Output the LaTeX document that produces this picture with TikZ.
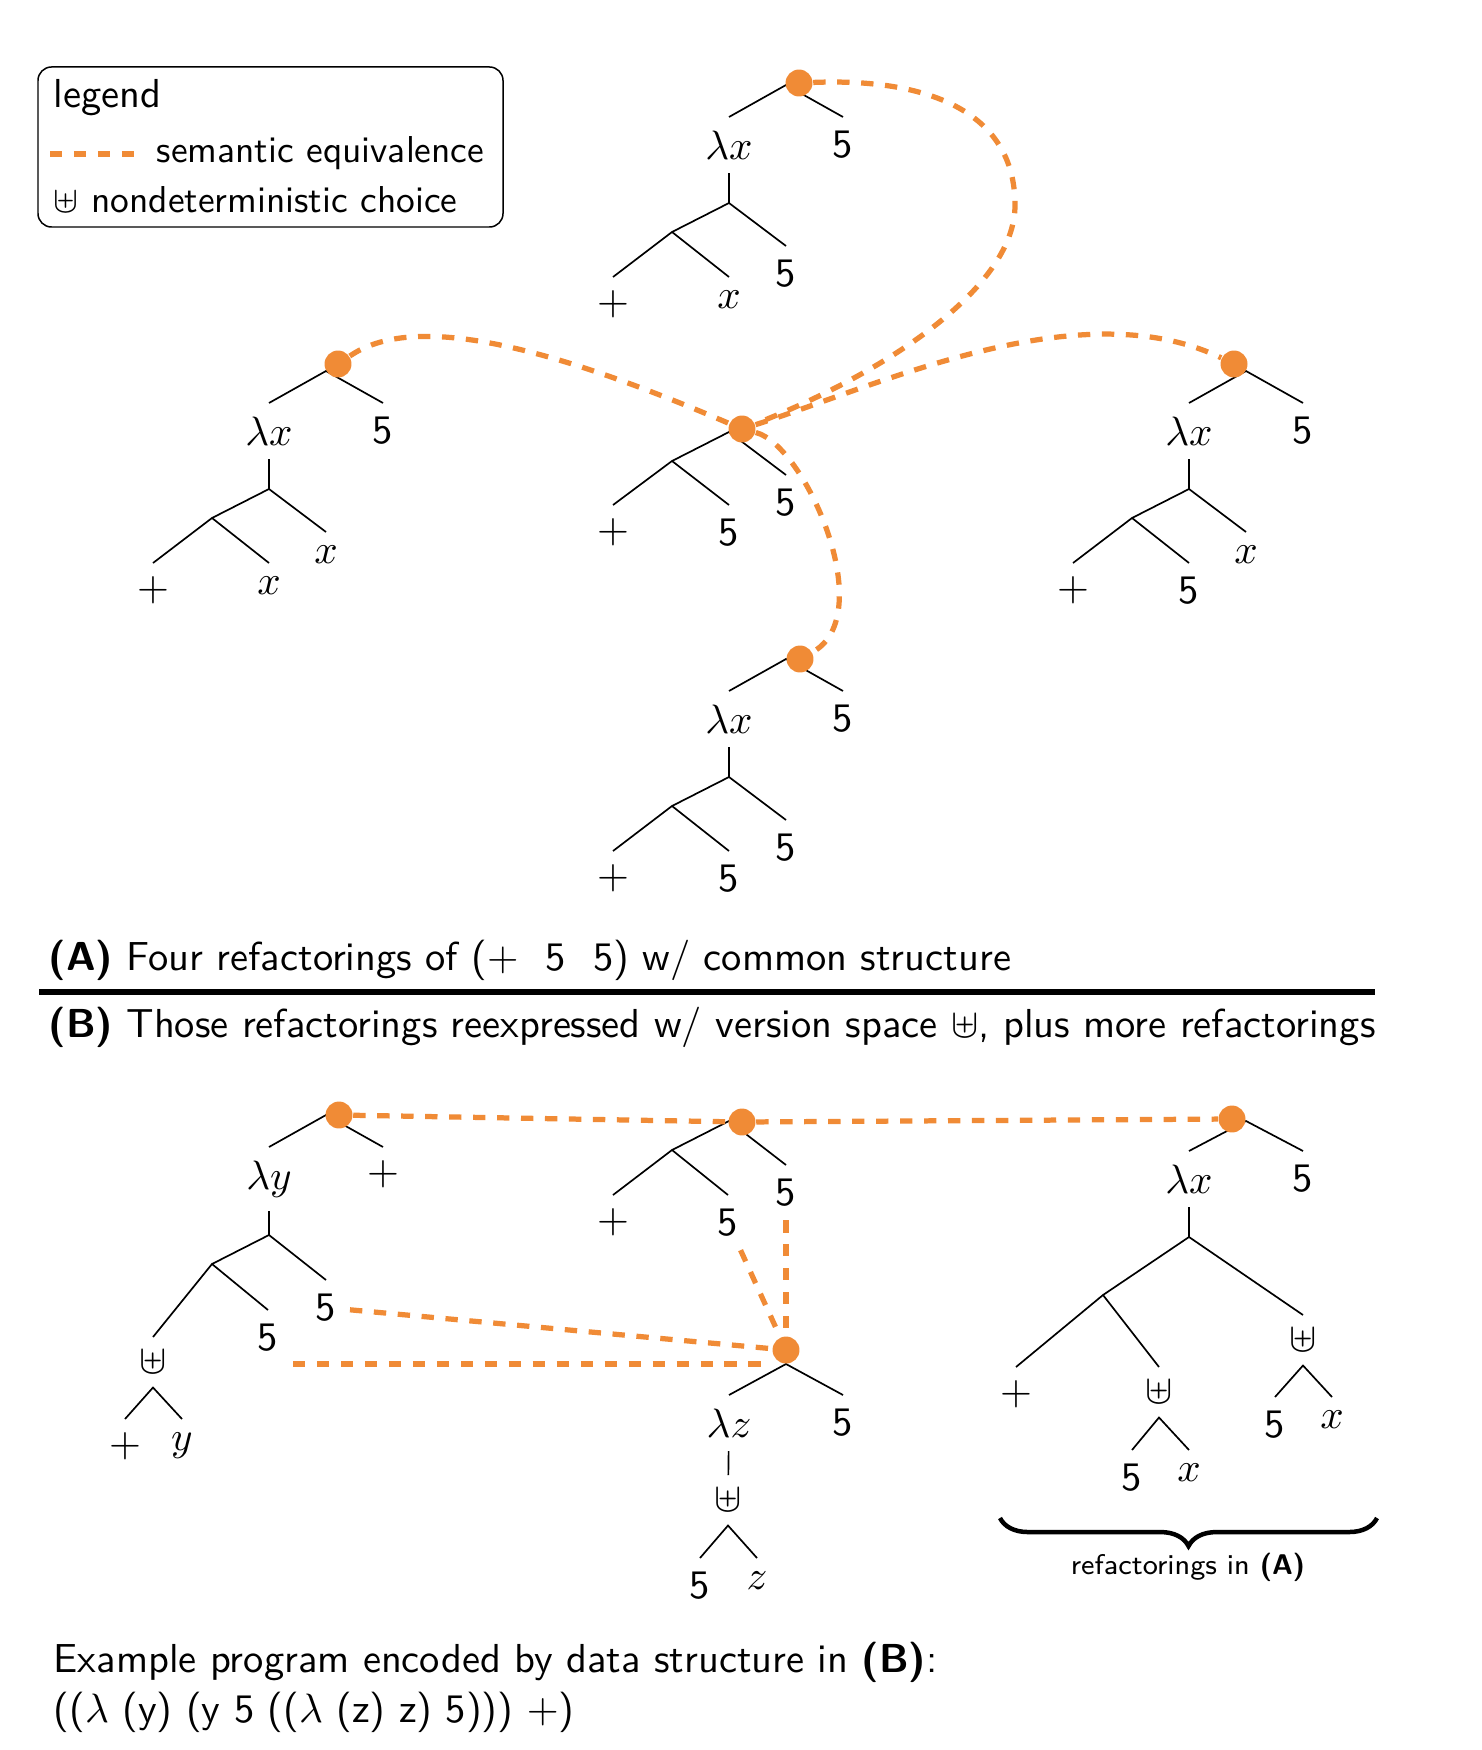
\documentclass[tikz,border=0pt]{standalone}
\usetikzlibrary{fit,decorations.pathreplacing}
\renewcommand{\familydefault}{\sfdefault}
\definecolor{eqorange}{RGB}{240,139,54}

\begin{document}
\begin{tikzpicture}[
  x=0.267pt,
  y=-0.267pt,
  lf/.style={anchor=north, inner sep=3.5pt, font=\fontsize{10.8}{13}\selectfont},
  tr/.style={draw=black, line width=0.45pt},
  eqv/.style={draw=eqorange, line width=1.4pt, dash pattern=on 3.3pt off 3.1pt},
  eqdot/.style={circle, fill=eqorange, inner sep=0pt, minimum size=7.2pt},
  txt/.style={anchor=base west, inner sep=0pt},
  bigtxt/.style={txt, font=\fontsize{10.8}{13}\selectfont}
]
\useasboundingbox (0,0) rectangle (1482,1750);

% legend
\node[draw, rounded corners=3.6pt, inner sep=0pt, fit={(38,67) (503,227)}] (legend) {};
\node[bigtxt] (legtitle) at (53,108) {legend};
\coordinate (legdashA) at (50,154);
\coordinate (legdashB) at (135,154);
\draw[eqv] (legdashA) -- (legdashB);
\node[txt] (legeqv) at (156,163) {semantic equivalence};
\node[txt] (legchoice) at (53,212) {$\uplus$ nondeterministic choice};

% (A) top tree
\coordinate (topR) at (786,85);
\node[lf] (toplam) at (729,117) {$\lambda x$};
\node[lf] (topfive) at (843,117) {5};
\coordinate (topapp) at (729,203);
\coordinate (topin) at (672,232);
\node[lf] (topr) at (786,246) {5};
\node[lf] (topplus) at (613,277) {$+$};
\node[lf] (topm) at (729,277) {$x$};
\draw[tr] (toplam.north) -- (topR) -- (topfive.north);
\draw[tr] (toplam) -- (topapp) -- (topr.north);
\draw[tr] (topplus.north) -- (topin) -- (topm.north);
\draw[tr] (topin) -- (topapp);

% (A) left tree
\coordinate (lftR) at (326,371);
\node[lf] (lftlam) at (269,403) {$\lambda x$};
\node[lf] (lftfive) at (383,403) {5};
\coordinate (lftapp) at (269,489);
\coordinate (lftin) at (212,518);
\node[lf] (lftr) at (326,532) {$x$};
\node[lf] (lftplus) at (153,563) {$+$};
\node[lf] (lftm) at (269,563) {$x$};
\draw[tr] (lftlam.north) -- (lftR) -- (lftfive.north);
\draw[tr] (lftlam) -- (lftapp) -- (lftr.north);
\draw[tr] (lftplus.north) -- (lftin) -- (lftm.north);
\draw[tr] (lftin) -- (lftapp);

% (A) middle tree
\coordinate (midapp) at (729,432);
\coordinate (midin) at (672,461);
\node[lf] (midr) at (786,475) {5};
\node[lf] (midplus) at (613,505) {$+$};
\node[lf] (midm) at (729,505) {5};
\draw[tr] (midin) -- (midapp) -- (midr.north);
\draw[tr] (midplus.north) -- (midin) -- (midm.north);

% (A) right tree
\coordinate (rgtR) at (1246,371);
\node[lf] (rgtlam) at (1189,403) {$\lambda x$};
\node[lf] (rgtfive) at (1303,403) {5};
\coordinate (rgtapp) at (1189,489);
\coordinate (rgtin) at (1132,518);
\node[lf] (rgtr) at (1246,532) {$x$};
\node[lf] (rgtplus) at (1073,563) {$+$};
\node[lf] (rgtm) at (1189,563) {5};
\draw[tr] (rgtlam.north) -- (rgtR) -- (rgtfive.north);
\draw[tr] (rgtlam) -- (rgtapp) -- (rgtr.north);
\draw[tr] (rgtplus.north) -- (rgtin) -- (rgtm.north);
\draw[tr] (rgtin) -- (rgtapp);

% (A) bottom tree
\coordinate (botR) at (786,659);
\node[lf] (botlam) at (729,691) {$\lambda x$};
\node[lf] (botfive) at (843,691) {5};
\coordinate (botapp) at (729,777);
\coordinate (botin) at (672,806);
\node[lf] (botr) at (786,820) {5};
\node[lf] (botplus) at (613,851) {$+$};
\node[lf] (botm) at (729,851) {5};
\draw[tr] (botlam.north) -- (botR) -- (botfive.north);
\draw[tr] (botlam) -- (botapp) -- (botr.north);
\draw[tr] (botplus.north) -- (botin) -- (botm.north);
\draw[tr] (botin) -- (botapp);

% captions and rule
\node[bigtxt] (capA) at (48,970) {\textbf{(A)} Four refactorings of (+\ \ 5\ \ 5) w/ common structure};
\coordinate (ruleL) at (39,992);
\coordinate (ruleR) at (1375,992);
\draw[line width=1.6pt] (ruleL) -- (ruleR);
\node[bigtxt] (capB) at (48,1037) {\textbf{(B)} Those refactorings reexpressed w/ version space $\uplus$, plus more refactorings};

% (B) left tree
\coordinate (vslR) at (326,1115);
\node[lf] (vsllam) at (269,1147) {$\lambda y$};
\node[lf] (vslplus) at (383,1147) {$+$};
\coordinate (vslapp) at (269,1235);
\coordinate (vslin) at (212,1264);
\node[lf] (vslr) at (326,1280) {5};
\node[lf] (vslm) at (268,1310) {5};
\node[lf] (vslu) at (153,1337) {$\uplus$};
\node[lf] (vslua) at (125,1419) {$+$};
\node[lf] (vslub) at (182,1419) {$y$};
\coordinate (vslc) at (293,1364);
\draw[tr] (vsllam.north) -- (vslR) -- (vslplus.north);
\draw[tr] (vsllam) -- (vslapp) -- (vslr.north);
\draw[tr] (vslu.north) -- (vslin) -- (vslm.north);
\draw[tr] (vslin) -- (vslapp);
\draw[tr] (vslua.north) -- (vslu.south) -- (vslub.north);

% (B) middle tree
\coordinate (vsmapp) at (729,1121);
\coordinate (vsmin) at (672,1150);
\node[lf] (vsmr) at (786,1165) {5};
\node[lf] (vsmplus) at (613,1195) {$+$};
\node[lf] (vsmm) at (728,1195) {5};
\draw[tr] (vsmin) -- (vsmapp) -- (vsmr.north);
\draw[tr] (vsmplus.north) -- (vsmin) -- (vsmm.north);

% (B) lambda z tree
\coordinate (vszR) at (786,1364);
\node[lf] (vszlam) at (729,1395) {$\lambda z$};
\node[lf] (vszfive) at (843,1395) {5};
\node[lf] (vszu) at (728,1475) {$\uplus$};
\node[lf] (vszua) at (700,1558) {5};
\node[lf] (vszub) at (757,1558) {$z$};
\draw[tr] (vszlam.north) -- (vszR) -- (vszfive.north);
\draw[tr] (vszlam) -- (vszu);
\draw[tr] (vszua.north) -- (vszu.south) -- (vszub.north);

% (B) right tree
\coordinate (vsrR) at (1246,1121);
\node[lf] (vsrlam) at (1189,1151) {$\lambda x$};
\node[lf] (vsrfive) at (1303,1151) {5};
\coordinate (vsrapp) at (1189,1237);
\coordinate (vsrin) at (1103,1295);
\node[lf] (vsru) at (1303,1315) {$\uplus$};
\node[lf] (vsrua) at (1275,1397) {5};
\node[lf] (vsrub) at (1332,1397) {$x$};
\node[lf] (vsrplus) at (1016,1367) {$+$};
\node[lf] (vsrv) at (1159,1367) {$\uplus$};
\node[lf] (vsrva) at (1132,1450) {5};
\node[lf] (vsrvb) at (1189,1450) {$x$};
\draw[tr] (vsrlam.north) -- (vsrR) -- (vsrfive.north);
\draw[tr] (vsrlam) -- (vsrapp) -- (vsru.north);
\draw[tr] (vsrplus.north) -- (vsrin) -- (vsrv.north);
\draw[tr] (vsrin) -- (vsrapp);
\draw[tr] (vsrua.north) -- (vsru.south) -- (vsrub.north);
\draw[tr] (vsrva.north) -- (vsrv.south) -- (vsrvb.north);

% brace under the right tree
\coordinate (braceL) at (1000,1518);
\coordinate (braceR) at (1377,1518);
\draw[decorate, decoration={brace, mirror, amplitude=7.5pt}, line width=1.2pt] (braceL) -- (braceR);
\node[font=\fontsize{7.6}{9}\selectfont] (bracelbl) at (1188,1567) {refactorings in \textbf{(A)}};

% equivalence dots
\node[eqdot] (topd) at (799,83) {};
\node[eqdot] (lftd) at (338,364) {};
\node[eqdot] (midd) at (742,429) {};
\node[eqdot] (rgtd) at (1234,364) {};
\node[eqdot] (botd) at (800,659) {};
\node[eqdot] (vsld) at (339,1115) {};
\node[eqdot] (vsmd) at (742,1122) {};
\node[eqdot] (vsrd) at (1232,1119) {};
\node[eqdot] (vszd) at (786,1350) {};

% semantic equivalence links
\draw[eqv] (topd) .. controls (925,78) and (1015,110) .. (1015,205)
  .. controls (1015,290) and (880,375) .. (midd);
\draw[eqv] (lftd) .. controls (400,322) and (500,325) .. (midd);
\draw[eqv] (midd) .. controls (880,385) and (1080,290) .. (rgtd);
\draw[eqv] (midd) .. controls (805,445) and (880,615) .. (botd);
\draw[eqv] (vsld) -- (vsmd) -- (vsrd);
\draw[eqv] (vslr) -- (vszd);
\draw[eqv] (vslc) -- (vslc -| vszd.west);
\draw[eqv] (vsmm) -- (vszd);
\draw[eqv] (vsmr) -- (vszd);

% example program
\node[bigtxt] (prog) at (53,1672) {Example program encoded by data structure in \textbf{(B)}:};
\node[bigtxt] (progexpr) at (53,1722) {(($\lambda$ (y) (y 5 (($\lambda$ (z) z) 5))) $+$)};
\end{tikzpicture}
\end{document}
